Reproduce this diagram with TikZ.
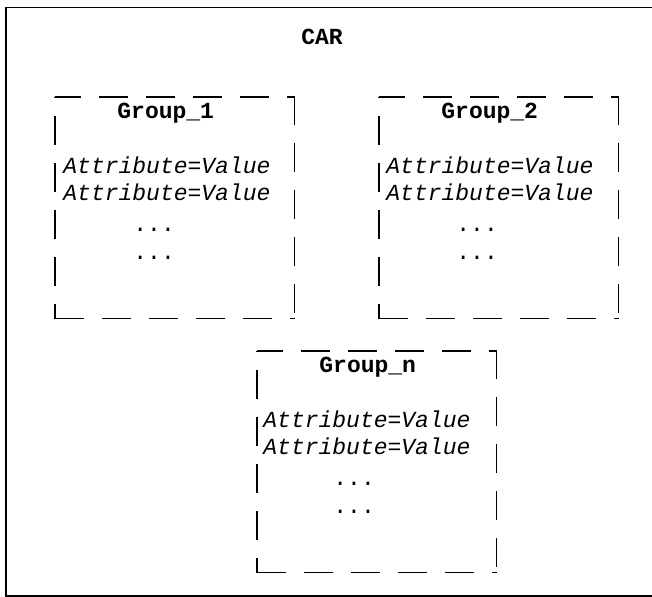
\documentclass[tikz,border=0pt]{standalone}
\usepackage{fontspec}
\setmonofont{Liberation Mono}
\usetikzlibrary{positioning}

\begin{document}
\begin{tikzpicture}[
  x=0.5pt, y=-0.5pt,
  frame/.style={draw, line width=0.75pt, minimum width=330pt, minimum height=294pt,
                inner sep=0pt, anchor=north west},
  group/.style={minimum width=119.5pt, minimum height=110.5pt, inner sep=0pt,
                anchor=north west},
  side/.style={line width=0.6pt, dash pattern=on 14.5pt off 9pt},
  title/.style={font=\ttfamily\bfseries\fontsize{11.5}{13.25}\selectfont,
                inner sep=0pt, anchor=base west},
  attr/.style={font=\ttfamily\itshape\fontsize{11.5}{13.25}\selectfont,
               inner sep=0pt, text height=9.5pt, text depth=3.75pt, anchor=north west},
  dots/.style={attr, font=\ttfamily\fontsize{11.5}{13.25}\selectfont}
]
\useasboundingbox (0,0) rectangle (652,597);
\node[frame] (car) at (5,7) {};
\node[title, anchor=base] (carname) at (322,45) {CAR};

% first group
\node[group] (g1) at (55,97) {};
\node[title] (g1name) at ([shift={(62,22)}]g1.north west) {Group\_1};
\node[attr] (g1a) at ([shift={(8,57)}]g1.north west) {Attribute=Value};
\node[attr] (g1b) at (g1a.south west) {Attribute=Value};
\node[dots] (g1c) at ([shift={(35pt,-2pt)}]g1b.south west) {...};
\node[dots] (g1d) at (g1c.south west) {...};

% second group
\node[group] (g2) at (379,97) {};
\node[title] (g2name) at ([shift={(62,22)}]g2.north west) {Group\_2};
\node[attr] (g2a) at ([shift={(7,57)}]g2.north west) {Attribute=Value};
\node[attr] (g2b) at (g2a.south west) {Attribute=Value};
\node[dots] (g2c) at ([shift={(35pt,-2pt)}]g2b.south west) {...};
\node[dots] (g2d) at (g2c.south west) {...};

% last group
\node[group] (gn) at (257,351) {};
\node[title] (gnname) at ([shift={(62,22)}]gn.north west) {Group\_n};
\node[attr] (gna) at ([shift={(6,57)}]gn.north west) {Attribute=Value};
\node[attr] (gnb) at (gna.south west) {Attribute=Value};
\node[dots] (gnc) at ([shift={(35pt,-2pt)}]gnb.south west) {...};
\node[dots] (gnd) at (gnc.south west) {...};

% dashed borders, one side at a time
\foreach \g in {g1,g2,gn} {
  \draw[side, dash phase=1.5pt] (\g.north west) -- (\g.north east);
  \draw[side, dash phase=0.5pt] (\g.north east) -- (\g.south east);
  \draw[side] (\g.south west) -- (\g.south east);
  \draw[side, dash phase=14pt] (\g.north west) -- (\g.south west);
}
\end{tikzpicture}
\end{document}
